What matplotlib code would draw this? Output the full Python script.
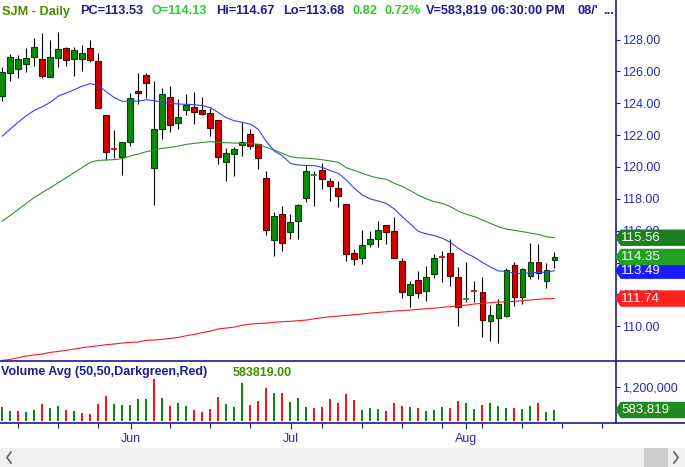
import matplotlib
matplotlib.use("Agg")
import matplotlib.pyplot as plt
from matplotlib.lines import Line2D
from matplotlib.patches import Polygon, Rectangle
from matplotlib.transforms import blended_transform_factory
import numpy as np

plt.rcParams['font.family'] = ['Liberation Sans', 'DejaVu Sans']

W, H = 685, 467

# daily candles (oldest first)
opens = [124.47, 125.88, 126.13, 126.44, 126.88, 126.75, 125.62, 126.82, 127.45, 126.75,
         126.75, 127.45, 126.63, 123.24, 121.20, 120.60, 121.59, 124.75, 125.75, 119.91,
         122.36, 124.37, 122.74, 123.55, 123.74, 123.55, 123.36, 122.93, 120.29, 120.79,
         121.36, 122.05, 121.44, 119.28, 115.39, 117.02, 115.89, 116.59, 118.03, 119.47,
         119.79, 119.10, 118.66, 117.67, 114.58, 114.26, 115.14, 115.45, 116.33, 115.96,
         114.07, 111.94, 112.88, 112.19, 113.26, 114.36, 114.58, 113.07, 111.67, 112.22,
         112.13, 110.31, 110.50, 110.62, 113.82, 111.81, 113.13, 114.01, 112.82, 114.13]
highs = [126.29, 127.09, 127.03, 127.47, 128.07, 128.39, 127.97, 128.47, 127.51, 127.51,
         127.65, 127.97, 127.13, 123.24, 122.30, 121.55, 124.62, 125.88, 125.92, 125.40,
         124.93, 125.08, 124.24, 124.58, 124.68, 124.37, 123.68, 122.93, 121.17, 121.25,
         122.80, 122.36, 121.44, 119.72, 117.17, 117.55, 117.02, 117.65, 120.10, 119.74,
         120.23, 119.28, 119.10, 117.67, 114.83, 116.02, 115.96, 116.61, 116.33, 116.84,
         114.26, 112.82, 113.45, 113.78, 114.53, 114.72, 115.46, 113.70, 114.01, 112.82,
         113.09, 111.31, 111.69, 113.64, 114.01, 113.64, 115.20, 115.14, 113.95, 114.67]
lows = [124.14, 125.42, 125.56, 125.98, 126.36, 125.60, 125.62, 126.27, 126.36, 125.73,
        126.04, 126.57, 123.68, 120.44, 120.54, 119.51, 121.34, 123.93, 124.35, 117.62,
        121.73, 122.21, 122.36, 123.24, 122.67, 123.24, 121.96, 120.20, 119.14, 119.45,
        120.71, 121.15, 119.89, 115.75, 114.43, 114.72, 115.50, 115.45, 117.78, 117.57,
        118.64, 117.84, 117.46, 114.07, 113.82, 113.89, 114.95, 114.95, 115.14, 114.26,
        111.75, 111.19, 111.75, 111.56, 113.01, 112.80, 112.55, 110.04, 111.50, 111.54,
        109.34, 109.05, 108.97, 110.56, 111.25, 111.37, 112.94, 112.94, 112.38, 113.68]
closes = [125.94, 126.88, 126.75, 126.82, 127.51, 125.73, 126.88, 127.38, 126.69, 127.32,
          127.13, 126.69, 123.68, 120.96, 121.15, 121.55, 124.31, 124.62, 125.25, 122.36,
          124.56, 122.61, 123.11, 123.87, 123.47, 123.30, 122.42, 120.60, 120.85, 121.10,
          121.56, 121.29, 120.54, 116.02, 116.90, 115.20, 116.52, 117.59, 119.72, 119.50,
          119.22, 118.78, 118.15, 114.51, 114.20, 115.08, 115.45, 116.02, 115.89, 114.26,
          112.13, 112.63, 112.06, 113.07, 114.26, 114.33, 113.13, 111.19, 111.70, 112.19,
          110.37, 110.68, 111.37, 113.51, 111.81, 113.57, 114.01, 113.32, 113.53, 114.35]
volumes = [673000, 557000, 557000, 530000, 584000, 745000, 637000, 691000, 584000, 557000,
           503000, 477000, 745000, 959000, 745000, 718000, 718000, 879000, 879000, 1405000,
           905000, 691000, 771000, 691000, 584000, 530000, 611000, 932000, 745000, 673000,
           1307000, 718000, 825000, 1173000, 1048000, 1039000, 798000, 905000, 664000, 637000,
           664000, 879000, 771000, 1012000, 852000, 584000, 637000, 611000, 557000, 771000,
           691000, 664000, 637000, 557000, 584000, 664000, 637000, 825000, 771000, 611000,
           718000, 771000, 691000, 637000, 637000, 611000, 691000, 771000, 530000, 583819]

# moving averages as drawn on the chart
ma_short = [121.94, 122.38, 122.82, 123.22, 123.55, 123.78, 124.06, 124.45, 124.64, 124.85,
            125.08, 125.23, 125.12, 124.72, 124.35, 124.12, 124.12, 124.14, 124.22, 124.16,
            124.08, 123.99, 123.95, 123.93, 123.91, 123.85, 123.72, 123.41, 123.09, 122.90,
            122.80, 122.69, 122.36, 121.59, 121.00, 120.70, 120.23, 120.12, 120.10, 120.08,
            119.97, 119.77, 119.60, 119.18, 118.66, 118.24, 117.99, 117.86, 117.71, 117.36,
            116.88, 116.42, 115.96, 115.80, 115.69, 115.52, 115.27, 114.89, 114.58, 114.33,
            114.01, 113.72, 113.47, 113.45, 113.32, 113.32, 113.36, 113.38, 113.40, 113.49]
ma_mid = [116.61, 116.96, 117.34, 117.71, 118.09, 118.40, 118.70, 119.01, 119.33, 119.64,
          119.97, 120.29, 120.41, 120.44, 120.46, 120.52, 120.69, 120.81, 120.96, 121.06,
          121.17, 121.23, 121.31, 121.42, 121.48, 121.54, 121.59, 121.54, 121.52, 121.50,
          121.48, 121.48, 121.42, 121.23, 121.06, 120.85, 120.65, 120.57, 120.55, 120.51,
          120.45, 120.38, 120.29, 119.95, 119.78, 119.60, 119.43, 119.30, 119.23, 118.97,
          118.78, 118.51, 118.23, 118.00, 117.82, 117.71, 117.51, 117.23, 117.03, 116.88,
          116.67, 116.46, 116.25, 116.10, 116.02, 115.94, 115.85, 115.77, 115.62, 115.56]
ma_long = [107.86, 107.92, 108.03, 108.13, 108.20, 108.26, 108.36, 108.42, 108.49, 108.57,
           108.65, 108.72, 108.78, 108.84, 108.89, 108.95, 108.99, 109.01, 109.12, 109.14,
           109.18, 109.24, 109.30, 109.41, 109.49, 109.60, 109.70, 109.83, 109.89, 109.95,
           110.06, 110.14, 110.18, 110.20, 110.25, 110.29, 110.31, 110.35, 110.39, 110.47,
           110.54, 110.60, 110.64, 110.68, 110.73, 110.77, 110.83, 110.87, 110.91, 110.96,
           110.98, 111.02, 111.06, 111.10, 111.14, 111.19, 111.23, 111.29, 111.33, 111.40,
           111.44, 111.48, 111.52, 111.54, 111.56, 111.61, 111.65, 111.69, 111.73, 111.74]

price_ticks = [110, 112, 114, 116, 118, 120, 122, 124, 126, 128]
hidden_price_ticks = [114]  # fully covered by the flags in the original
month_labels = ['Jun', 'Jul', 'Aug']
month_pos = [16.1, 36.1, 58]
week_pos = [2, 7, 12, 21, 26, 31, 40, 45, 50, 55, 60, 65, 70, 75]

NAVY = '#1c1c8e'
LABEL = '#2a2ab4'
UP, UP_EDGE = '#0b8a0b', '#054405'
DOWN, DOWN_EDGE = '#d00000', '#5a0000'


def fx(px):
    return px / W


def fy(py):
    return 1 - py / H


def tag(ax, value, text, color, px_per_unit):
    # left-pointing price flag on the right axis
    tr = blended_transform_factory(ax.transAxes, ax.transData)
    half = 7.5 / px_per_unit
    r = W / 616.0
    tip = 1 + 5 / 616.0
    pts = [(1.0, value), (tip, value + half), (r, value + half),
           (r, value - half), (tip, value - half)]
    ax.add_patch(Polygon(pts, closed=True, transform=tr, facecolor=color,
                         edgecolor=color, clip_on=False, zorder=6))
    ax.text(1 + 5 / 616.0, value, text, transform=tr, color='white', fontsize=9.5,
            va='center', ha='left', clip_on=False, zorder=7)


def draw_price(ax):
    x = np.arange(len(closes))
    o, h, l, c = map(np.array, (opens, highs, lows, closes))
    ax.vlines(x, l, h, color='black', lw=0.8, zorder=2)
    up = c >= o
    doji = np.abs(c - o) < 0.06
    body = ~doji
    ax.bar(x[body], np.abs(c - o)[body], bottom=np.minimum(o, c)[body], width=0.72,
           color=np.where(up, UP, DOWN)[body], edgecolor=np.where(up, UP_EDGE, DOWN_EDGE)[body],
           linewidth=0.8, zorder=3)
    ax.hlines(c[doji], x[doji] - 0.37, x[doji] + 0.37, colors=np.where(up, UP, DOWN)[doji],
              lw=1.2, zorder=3)

    ax.plot(x, ma_long, color='#ff1a1a', lw=0.8, zorder=4)
    ax.plot(x, ma_mid, color='#2f922f', lw=0.8, zorder=4)
    ax.plot(x, ma_short, color='#3c3cff', lw=0.8, zorder=4)

    ax.set_xlim(-0.29, 76.7)
    ax.set_ylim(107.82, 130.48)
    ax.set_xticks([])
    ax.yaxis.tick_right()
    ax.set_yticks(price_ticks)
    ax.set_yticklabels(['' if v in hidden_price_ticks else f'{v:.2f}' for v in price_ticks])
    ax.tick_params(axis='y', length=3, width=0.8, pad=1.5, labelsize=9,
                   labelcolor=LABEL, color=NAVY)
    for s in ('top', 'bottom', 'left'):
        ax.spines[s].set_visible(False)
    ax.spines['right'].set_color(NAVY)
    ax.spines['right'].set_linewidth(1.2)

    ppu = 361.0 / (130.48 - 107.82)
    tag(ax, ma_mid[-1], f'{ma_mid[-1]:.2f}', '#1d7f1d', ppu)
    tag(ax, ma_short[-1], f'{ma_short[-1]:.2f}', '#1a1aff', ppu)
    tag(ax, closes[-1], f'{closes[-1]:.2f}', '#23a023', ppu)
    tag(ax, ma_long[-1], f'{ma_long[-1]:.2f}', '#ff2020', ppu)


def draw_volume(ax):
    x = np.arange(len(volumes))
    c = np.array(closes)
    rising = np.concatenate([[True], c[1:] >= c[:-1]])
    floor = 280000
    ax.bar(x, np.array(volumes) - floor, bottom=floor, width=0.27,
           color=np.where(rising, '#0b8a0b', '#ff1010'), zorder=3)
    ax.set_xlim(-0.29, 76.7)
    ax.set_ylim(234700, 1896500)
    ax.yaxis.tick_right()
    ax.set_yticks([600000, 1200000])
    ax.set_yticklabels(['', '1,200,000'])
    ax.tick_params(axis='y', length=3, width=0.8, pad=1.5, labelsize=9,
                   labelcolor=LABEL, color=NAVY)
    ax.set_xticks(month_pos)
    ax.set_xticklabels(month_labels)
    ax.set_xticks(week_pos, minor=True)
    ax.tick_params(axis='x', which='major', length=4.5, width=0.8, color=NAVY,
                   labelcolor=LABEL, labelsize=9, pad=3)
    ax.tick_params(axis='x', which='minor', length=3.5, width=0.8, color=NAVY)
    for s in ('top', 'bottom', 'left'):
        ax.spines[s].set_visible(False)
    ax.spines['right'].set_color(NAVY)
    ax.spines['right'].set_linewidth(1.2)
    tag(ax, volumes[-1], f'{volumes[-1]:,}', '#1f8a1f', 62.0 / (1896500 - 234700))


def draw_frame(fig):
    for py in (361, 423):
        fig.add_artist(Line2D([0, 1], [fy(py), fy(py)], color=NAVY, lw=1.2))
    fig.add_artist(Rectangle((0, 0), 1, 19 / H, facecolor='#f0f0f0', edgecolor='none'))
    fig.add_artist(Rectangle((fx(644), 0), fx(24), 19 / H, facecolor='#cdcdcd', edgecolor='none'))
    fig.add_artist(Line2D([fx(11), fx(7), fx(11)], [fy(452), fy(457.5), fy(463)],
                          color='#606060', lw=1.2))
    fig.add_artist(Line2D([fx(674), fx(678), fx(674)], [fy(452), fy(457.5), fy(463)],
                          color='#606060', lw=1.2))


def draw_header(fig):
    items = [(2, 'SJM - Daily', '#4f8a00'), (80, 'PC=113.53', NAVY),
             (152, 'O=114.13', '#2ecc2e'), (216, 'Hi=114.67', NAVY),
             (283, 'Lo=113.68', NAVY), (353, '0.82', '#2ecc2e'),
             (384, '0.72%', '#2ecc2e'), (426, 'V=583,819', NAVY),
             (491, '06:30:00 PM', NAVY), (577, "08/'", NAVY), (603, '...', NAVY)]
    for px, s, col in items:
        fig.text(fx(px), fy(14.5), s, color=col, fontsize=9.2, fontweight='bold',
                 va='baseline', ha='left', zorder=10)
    fig.text(fx(1), fy(375.5), 'Volume Avg (50,50,Darkgreen,Red)', color=NAVY,
             fontsize=9, fontweight='bold', va='baseline', ha='left', zorder=10)
    fig.text(fx(233), fy(375.5), f'{volumes[-1]:.2f}', color='#3f8f00',
             fontsize=9, fontweight='bold', va='baseline', ha='left', zorder=10)


def main():
    fig = plt.figure(figsize=(W / 100, H / 100), dpi=100)
    ax_p = fig.add_axes([0, fy(361), fx(616), 361 / H])
    ax_v = fig.add_axes([0, fy(423), fx(616), 62 / H])
    draw_price(ax_p)
    draw_volume(ax_v)
    draw_frame(fig)
    draw_header(fig)
    fig.savefig('out.png', dpi=100)


if __name__ == '__main__':
    main()
